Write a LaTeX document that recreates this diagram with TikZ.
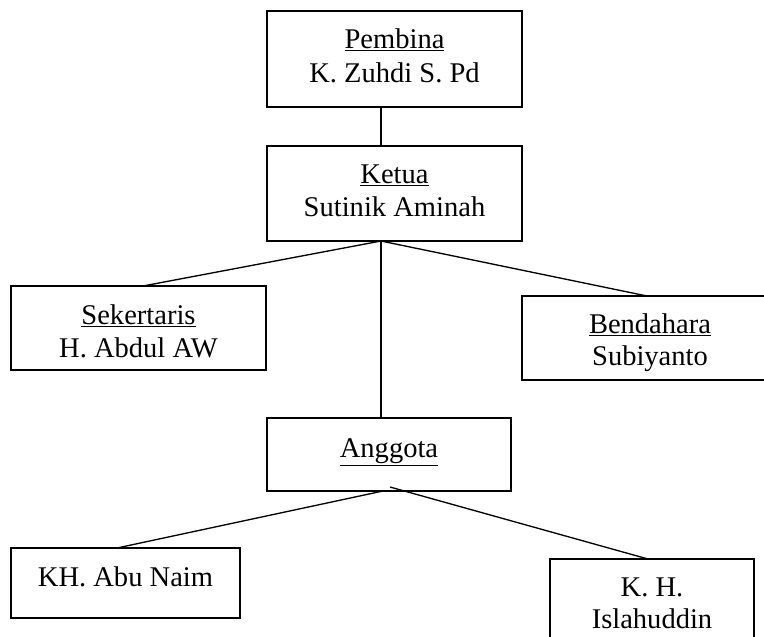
\documentclass[tikz,border=0pt]{standalone}
\usepackage{fontspec}
\setmainfont{Liberation Serif}
\usetikzlibrary{calc}
\begin{document}
\begin{tikzpicture}[x=0.75pt,y=-0.75pt,
  box/.style={draw, line width=1pt, rectangle, inner sep=0pt, outer sep=0pt},
  lbl/.style={anchor=base, inner sep=0pt, font=\fontsize{21.4}{24.75}\selectfont},
  conn/.style={line width=1pt}]
\useasboundingbox (0,0) rectangle (764,636);
\clip (0,0) rectangle (764,636);
% boxes
\node[box, minimum width=191.25pt, minimum height=72pt] (pembina) at (394.5,59) {};
\node[box, minimum width=191.25pt, minimum height=71.25pt] (ketua) at (394.5,193.5) {};
\node[box, minimum width=191.25pt, minimum height=63pt] (sek) at (138.5,328) {};
\node[box, minimum width=191.25pt, minimum height=63pt] (ben) at (649.5,338) {};
\node[box, minimum width=183pt, minimum height=54.75pt] (ang) at (389,454.5) {};
\node[box, minimum width=171.75pt, minimum height=52.5pt] (abu) at (125.5,583) {};
\node[box, minimum width=153pt, minimum height=63pt] (isl) at (652,601) {};
% texts
\node[lbl] (t1) at (394.5,48) {\underline{Pembina}};
\node[lbl] (t2) at (394.5,82) {K. Zuhdi S. Pd};
\node[lbl] (t3) at (394.5,183) {\underline{Ketua}};
\node[lbl] (t4) at (394.5,216) {Sutinik Aminah};
\node[lbl] (t5) at (138.5,324) {\underline{Sekertaris}};
\node[lbl] (t6) at (138.5,357) {H. Abdul AW};
\node[lbl] (t7) at (650,333) {\underline{Bendahara}};
\node[lbl] (t8) at (650,365) {Subiyanto};
\node[lbl] (t9) at (389,457) {\underline{Anggota}};
\node[lbl] (t10) at (125.5,586) {KH. Abu Naim};
\node[lbl] (t11) at (652,596) {K. H.};
\node[lbl] (t12) at (652,628) {Islahuddin};
% connectors
\draw[conn] ($(pembina.south west)+(114,0)$) -- ($(ketua.north west)+(114,0)$);
\draw[conn] ($(ketua.south west)+(114,0)$) -- ($(sek.north west)+(132,0)$);
\draw[conn] ($(ketua.south west)+(114,0)$) -- ($(ben.north west)+(125,0)$);
\draw[conn] ($(ketua.south west)+(114,0)$) -- ($(ang.north west)+(114,0)$);
\draw[conn] ($(ang.south west)+(116,0)$) -- ($(abu.north west)+(106,0)$);
\draw[conn] ($(ang.south west)+(123,-4)$) -- ($(isl.north west)+(98,0)$);
\end{tikzpicture}
\end{document}
